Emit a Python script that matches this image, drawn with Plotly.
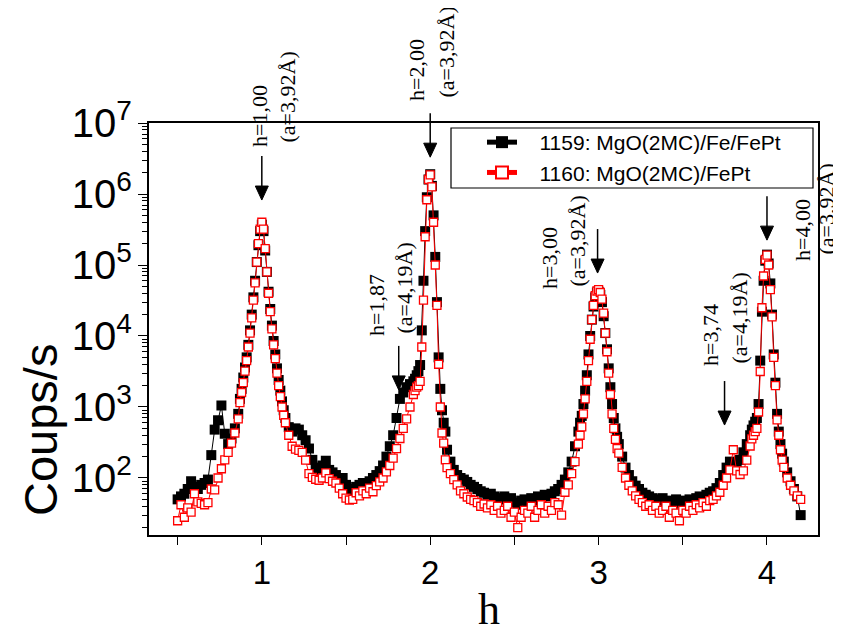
import math
import plotly.graph_objects as go

# ---------------- data ----------------
h = [
    0.50, 0.52, 0.54, 0.56, 0.58, 0.60, 0.62, 0.64, 0.66, 0.68, 0.70, 0.72, 0.74, 0.76, 0.78, 0.80, 0.82, 0.84, 0.86,
    0.87, 0.88, 0.89, 0.90, 0.91, 0.92, 0.93, 0.94, 0.95, 0.96, 0.97, 0.98, 0.99, 1.00, 1.01, 1.02, 1.03, 1.04, 1.05,
    1.06, 1.07, 1.08, 1.09, 1.10, 1.11, 1.12, 1.13,
    1.14, 1.16, 1.18, 1.20, 1.22, 1.24, 1.26, 1.28, 1.30, 1.32, 1.34, 1.36, 1.38, 1.40, 1.42, 1.44, 1.46, 1.48, 1.50,
    1.52, 1.54, 1.56, 1.58, 1.60, 1.62, 1.64, 1.66, 1.68, 1.70, 1.72, 1.74, 1.76, 1.78, 1.80, 1.82, 1.84, 1.86, 1.88, 1.90,
    1.91, 1.92, 1.93, 1.94, 1.95, 1.96, 1.97, 1.98, 1.99, 2.00, 2.01, 2.02, 2.03, 2.04, 2.05, 2.06, 2.07, 2.08, 2.09,
    2.10, 2.12, 2.14, 2.16, 2.18, 2.20, 2.22, 2.24, 2.26, 2.28, 2.30, 2.32, 2.34, 2.36, 2.38, 2.40, 2.42, 2.44, 2.46, 2.48,
    2.50, 2.52, 2.54, 2.56, 2.58, 2.60, 2.62, 2.64, 2.66, 2.68, 2.70, 2.72, 2.74, 2.76, 2.78, 2.80, 2.82, 2.84, 2.86, 2.88,
    2.89, 2.90, 2.91, 2.92, 2.93, 2.94, 2.95, 2.96, 2.97, 2.98, 2.99, 3.00, 3.01, 3.02, 3.03, 3.04, 3.05, 3.06, 3.07, 3.08,
    3.09, 3.10, 3.11,
    3.12, 3.14, 3.16, 3.18, 3.20, 3.22, 3.24, 3.26, 3.28, 3.30, 3.32, 3.34, 3.36, 3.38, 3.40, 3.42, 3.44, 3.46, 3.48, 3.50,
    3.52, 3.54, 3.56, 3.58, 3.60, 3.62, 3.64, 3.66, 3.68, 3.70, 3.72, 3.74, 3.76, 3.78, 3.80, 3.82, 3.84, 3.86, 3.88, 3.90,
    3.91, 3.92, 3.93, 3.94, 3.95, 3.96, 3.97, 3.98, 3.99, 4.00, 4.01, 4.02, 4.03, 4.04, 4.05, 4.06, 4.07, 4.08, 4.09,
    4.10, 4.12, 4.14, 4.16, 4.18, 4.20,
]

counts_1159 = [
    50, 55, 60, 70, 90, 75, 70, 80, 85, 95, 210, 480, 650, 1050, 420, 300, 360, 500, 800,
    1300, 1800, 2600, 3600, 5000, 7500, 12000, 20000, 35000, 60000, 110000, 190000, 300000, 370000, 300000, 160000,
    80000, 42000, 24000, 14000, 8500, 5500, 3500, 2400, 1700, 1200, 900,
    700, 520, 450, 500, 480, 400, 340, 260, 180, 140, 130, 150, 175, 130, 120, 110, 95, 100, 80,
    70, 65, 75, 80, 85, 78, 90, 100, 110, 125, 150, 200, 280, 400, 700, 1300, 1600, 1900, 2100, 2300,
    2500, 2800, 3200, 3900, 12000, 60000, 300000, 900000, 1600000, 1900000, 1300000, 500000, 130000, 30000, 5000,
    1800, 900, 600, 450,
    250, 170, 130, 110, 100, 95, 88, 80, 75, 70, 65, 62, 58, 60, 55, 52, 50, 55, 48, 52,
    45, 42, 48, 50, 45, 52, 48, 55, 52, 58, 55, 60, 65, 70, 80, 95, 120, 170, 280, 450,
    600, 750, 1100, 1700, 2800, 5500, 10000, 17000, 26000, 35000, 41000, 42000, 38000, 30000, 19000, 11000, 6500,
    3500, 1900, 1100, 700, 500, 380,
    300, 200, 140, 110, 90, 78, 70, 62, 58, 55, 52, 50, 48, 52, 45, 48, 42, 50, 45, 48,
    44, 50, 46, 52, 55, 50, 58, 62, 65, 72, 85, 110, 140, 170, 150, 160, 180, 230, 300, 400,
    480, 550, 620, 700, 1100, 4500, 22000, 60000, 115000, 140000, 105000, 55000, 20000, 5500, 2200, 800, 450, 300, 220,
    170, 120, 90, 70, 55, 30,
]

counts_1160 = [
    25, 42, 28, 38, 33, 60, 46, 44, 42, 45, 70, 68, 100, 135, 180, 230, 310, 430, 680,
    1150, 1600, 2200, 3200, 4500, 7000, 11000, 18000, 32000, 56000, 110000, 200000, 320000, 400000, 320000, 170000,
    80000, 40000, 22000, 12600, 7500, 4800, 3000, 2000, 1400, 1000, 760,
    600, 400, 280, 255, 245, 230, 178, 115, 102, 96, 93, 100, 118, 98, 90, 85, 72, 60, 52,
    49, 50, 62, 56, 66, 60, 72, 64, 78, 88, 100, 122, 150, 190, 260, 360, 500, 680, 1000, 1500,
    1700, 1900, 2000, 2300, 7000, 32000, 250000, 830000, 1600000, 1860000, 1260000, 400000, 100000, 27000, 4000,
    1000, 430, 310, 180,
    140, 115, 95, 80, 66, 60, 54, 50, 48, 45, 40, 43, 38, 42, 35, 40, 32, 35, 40, 28,
    33, 20, 28, 35, 32, 40, 28, 35, 42, 32, 40, 35, 45, 42, 30, 63, 80, 115, 170, 300,
    400, 525, 800, 1300, 2300, 4500, 9000, 17000, 27000, 37000, 43000, 45000, 41000, 33000, 21000, 11000, 6000,
    3000, 1500, 800, 500, 350, 260,
    224, 141, 100, 79, 66, 56, 50, 45, 40, 42, 35, 40, 32, 35, 40, 28, 35, 32, 25, 35,
    32, 40, 35, 42, 38, 45, 40, 48, 50, 56, 63, 79, 100, 130, 250, 126, 112, 126, 178, 282,
    355, 400, 450, 500, 850, 3160, 25000, 70000, 120000, 138000, 100000, 45000, 18600, 5000, 2000, 660, 400, 250, 178,
    141, 100, 79, 66, 56, 50,
]

series_names = ["1159: MgO(2MC)/Fe/FePt", "1160: MgO(2MC)/FePt"]
x_ticks = [1, 2, 3, 4]
x_minor_ticks = [0.5, 1.5, 2.5, 3.5]

# peak markers: arrow h position, arrow tip (counts), two text lines
peak_h = [1.0, 2.0, 1.813, 2.994, 3.748, 4.0]
peak_tip = [822000, 3300000, 1740, 77000, 557, 224000]
peak_line1 = ["h=1,00", "h=2,00", "h=1,87", "h=3,00", "h=3,74", "h=4,00"]
peak_line2 = ["(a=3,92Å)", "(a=3,92Å)", "(a=4,19Å)", "(a=3,92Å)", "(a=4,19Å)", "(a=3,92Å)"]

# ---------------- layout geometry ----------------
OFF = 8                      # page body margin of the browser
W, H = 841 - OFF, 632 - OFF
ML, MR, MT, MB = 149 - OFF, 23, 123 - OFF, 97
PW, PH = W - ML - MR, H - MT - MB
X_RANGE = [0.33, 4.303]
Y_RANGE = [1.197, 7.0]


def px(xs):
    """screen pixel x -> paper fraction"""
    return (xs - OFF - ML) / PW


def py(ys):
    """screen pixel y -> paper fraction"""
    return (OFF + MT + PH - ys) / PH


def val_to_paper_y(v):
    return (math.log10(v) - Y_RANGE[0]) / (Y_RANGE[1] - Y_RANGE[0])


# rotated text lines: (centre x, bottom y) in screen pixels
line1_pos = [(259, 148), (417, 102), (376, 337), (549, 290), (710, 367), (803, 262)]
line2_pos = [(287, 144), (446, 99), (404, 335), (577, 288), (739, 365), (826, 256)]

SANS = "Liberation Sans, Arial, sans-serif"
SERIF = "Liberation Serif, Times New Roman, serif"
PAD = "\u00a0\u00a0\u00a0"

fig = go.Figure()
fig.add_trace(go.Scatter(
    x=h, y=counts_1159, mode="lines+markers", name=PAD + series_names[0],
    line=dict(color="black", width=1),
    marker=dict(symbol="square", size=10, color="black", line=dict(width=0)),
))
fig.add_trace(go.Scatter(
    x=h, y=counts_1160, mode="lines+markers", name=PAD + series_names[1],
    line=dict(color="red", width=1),
    marker=dict(symbol="square", size=8, color="white", line=dict(color="red", width=1.3)),
))

annotations = []
shapes = []
ARROW_LEN = 44 / PH          # arrow length in paper units
HEAD_LEN = 14 / PH
HEAD_HALF = 6.5 * (X_RANGE[1] - X_RANGE[0]) / PW
for i in range(len(peak_h)):
    tip = val_to_paper_y(peak_tip[i])
    xh = peak_h[i]
    shapes.append(dict(type="line", xref="x", yref="paper", x0=xh, x1=xh,
                       y0=tip + ARROW_LEN, y1=tip + HEAD_LEN * 0.5,
                       line=dict(color="black", width=1.5)))
    shapes.append(dict(type="path", xref="x", yref="paper",
                       path=f"M {xh - HEAD_HALF} {tip + HEAD_LEN} L {xh + HEAD_HALF} {tip + HEAD_LEN} L {xh} {tip} Z",
                       fillcolor="black", line=dict(color="black", width=1)))
    for (cx, by), txt in ((line1_pos[i], peak_line1[i]), (line2_pos[i], peak_line2[i])):
        annotations.append(dict(
            x=px(cx), y=py(by), xref="paper", yref="paper", text=txt, showarrow=False,
            textangle=-90, xanchor="center", yanchor="bottom", borderpad=0,
            font=dict(family=SERIF, size=22, color="black"),
        ))

# axis titles
annotations.append(dict(x=px(40), y=py(430), xref="paper", yref="paper", text="Coups/s",
                        showarrow=False, textangle=-90, xanchor="center", yanchor="middle",
                        font=dict(family=SANS, size=47, color="black")))
annotations.append(dict(x=px(489), y=py(609), xref="paper", yref="paper", text="h",
                        showarrow=False, xanchor="center", yanchor="middle",
                        font=dict(family=SERIF, size=44, color="black")))

# legend frame
shapes.append(dict(type="rect", xref="paper", yref="paper", x0=px(451), x1=px(813),
                   y0=py(188), y1=py(128), line=dict(color="black", width=1.2),
                   fillcolor="rgba(0,0,0,0)", layer="above"))

fig.update_layout(
    width=W, height=H,
    margin=dict(l=ML, r=MR, t=MT, b=MB, pad=0, autoexpand=False),
    paper_bgcolor="white", plot_bgcolor="white",
    showlegend=True,
    legend=dict(x=px(482), y=py(122), xanchor="left", yanchor="top",
                bgcolor="rgba(0,0,0,0)", borderwidth=0,
                font=dict(family=SANS, size=21, color="black"),
                tracegroupgap=0, itemsizing="constant"),
    annotations=annotations,
    shapes=shapes,
    xaxis=dict(range=X_RANGE, tickvals=x_ticks, ticktext=[str(v) for v in x_ticks],
               ticks="outside", ticklen=8, tickwidth=1.2, tickcolor="black",
               showline=True, linecolor="black", linewidth=1.5, mirror=True,
               showgrid=False, zeroline=False,
               tickfont=dict(family=SANS, size=33, color="black"),
               minor=dict(tickvals=x_minor_ticks, ticks="outside", ticklen=8,
                          tickwidth=1.2, tickcolor="black", showgrid=False)),
    yaxis=dict(type="log", range=Y_RANGE, dtick=1, exponentformat="power",
               ticks="outside", ticklen=9, tickwidth=1.2, tickcolor="black",
               showline=True, linecolor="black", linewidth=1.5, mirror=True,
               showgrid=False, zeroline=False,
               tickfont=dict(family=SANS, size=32, color="black"),
               minor=dict(dtick="D1", ticks="outside", ticklen=5, tickwidth=1,
                          tickcolor="black", showgrid=False)),
)

fig.write_html("out.html")
